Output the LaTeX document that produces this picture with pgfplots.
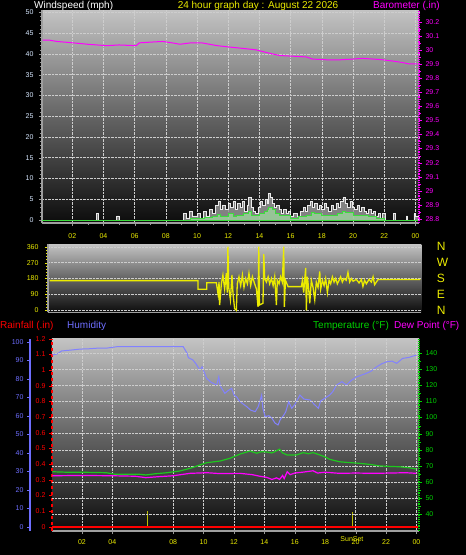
\documentclass[border=0pt]{standalone}
\usepackage{pgfplots}
\pgfplotsset{compat=1.18}
\usepackage{fontspec}
\setmainfont{Liberation Sans}
\definecolor{ylw}{RGB}{235,235,0}
\definecolor{mag}{RGB}{255,0,255}
\definecolor{hum}{RGB}{110,110,255}
\definecolor{humline}{RGB}{130,130,255}
\definecolor{grn}{RGB}{0,210,0}
\definecolor{tline}{RGB}{30,200,30}
\definecolor{windlbl}{RGB}{215,232,255}
\definecolor{bgtop}{RGB}{195,195,195}
\definecolor{bgmid}{RGB}{100,100,100}
\definecolor{bgbot}{RGB}{12,12,12}
\definecolor{gridc}{RGB}{205,205,205}
\definecolor{sunc}{RGB}{190,190,0}
\definecolor{gustfill}{RGB}{150,150,150}
\definecolor{avgline}{RGB}{60,220,60}
\definecolor{avgfill}{RGB}{160,225,160}

\pgfplotsset{
  base/.style={scale only axis, anchor=south west,
    /pgf/number format/assume math mode=true,
    tick label style={font=\fontsize{7}{8}\selectfont},
    axis background/.style={top color=bgtop, bottom color=bgbot, middle color=bgmid},
    grid style={gridc, densely dotted, line width=0.4pt},
    tick align=outside,
    major tick length=3pt, minor tick length=2pt,
  },
  over/.style={base, axis background/.style={}},
}
\begin{document}
\begin{tikzpicture}
\fill[black] (0pt,0pt) rectangle (466pt,-555pt);
\useasboundingbox (0pt,0pt) rectangle (466pt,-555pt);

% ---------------- top panel: wind speed ----------------
\begin{axis}[base, at={(42pt,-223pt)}, width=377pt, height=213pt,
  xmin=0.06, xmax=24.23, ymin=-0.72, ymax=50.55,
  xtick={2,4,6,8,10,12,14,16,18,20,22,24},
  xticklabels={02,04,06,08,10,12,14,16,18,20,22,00},
  ytick={0,5,10,15,20,25,30,35,40,45,50},
  minor x tick num=1, minor y tick num=4,
  xmajorgrids, ymajorgrids,
  axis x line*=bottom, axis y line*=left,
  axis line style={draw=gray!75, line width=1.2pt},
  x tick style={gray!80}, y tick style={gray!80},
  xticklabel style={ylw, yshift=-4pt},
  yticklabel style={windlbl, xshift=-2pt},
]
\addplot[const plot, draw=white!85!gray, line width=0.7pt, fill=gustfill, fill opacity=0.85] coordinates {
(0.06,0)(3.5,0)(3.55,1.5)(3.7,0)(4.85,1)(5.0,0)(9.0,0)(9.1,1.5)(9.3,0.5)(9.5,2)(9.7,1)(10.0,1.5)(10.2,0.5)(10.4,2)(10.6,1)(10.8,2.5)(11.0,1.5)(11.2,3.5)(11.35,4.5)(11.5,2.5)(11.6,3.5)(11.8,2.5)(12.0,4)(12.15,3)(12.3,4.5)(12.45,2.5)(12.6,4)(12.75,3)(12.9,4.5)(13.05,2)(13.2,3.5)(13.3,5.5)(13.45,3)(13.6,2)(13.75,1.5)(13.9,3)(14.05,4.5)(14.2,3.5)(14.35,5)(14.5,4)(14.6,6.5)(14.7,5.5)(14.8,4)(14.95,3)(15.1,3.5)(15.25,2.5)(15.4,1.5)(15.55,2.5)(15.7,1.5)(15.85,2)(16.0,1)(16.2,1.5)(16.4,1)(16.6,2)(16.8,3)(16.95,2)(17.1,3.5)(17.25,4.5)(17.4,3)(17.55,4)(17.7,2.5)(17.85,3.5)(18.0,2.5)(18.15,4)(18.3,3)(18.45,2)(18.6,3.5)(18.75,2.5)(18.9,4)(19.05,3)(19.2,4.5)(19.35,5.5)(19.5,4)(19.65,3)(19.8,4.5)(19.95,3)(20.1,2.5)(20.25,3.5)(20.4,2)(20.55,3)(20.7,2)(20.85,1.5)(21.0,2.5)(21.15,1.5)(21.3,2)(21.45,1)(21.6,1.5)(21.75,0.5)(21.9,1.5)(22.05,0)(22.6,1.5)(22.7,0)(23.4,1)(23.5,0)(23.9,1.5)(24.0,1)(24.2,0)
} \closedcycle;
\addplot[const plot, draw=avgline, line width=0.8pt, fill=avgfill, fill opacity=0.7] coordinates {
(0.06,0)(9.5,0)(9.6,0.5)(10,0.3)(10.5,0.6)(11,0.8)(11.3,1.4)(11.5,0.9)(12,1.5)(12.3,0.8)(12.5,1.2)(13,1.5)(13.3,2)(13.5,1)(14,1.5)(14.3,2)(14.5,2.6)(14.6,3)(14.8,2.5)(15,1.5)(15.3,1.1)(15.5,1)(16,0.5)(16.5,0.8)(17,1)(17.3,1.8)(17.5,1.5)(18,1.2)(18.5,1)(19,1.5)(19.3,2)(19.5,1.8)(20,1.2)(20.5,1)(21,0.8)(21.5,0.5)(22,0)(24.2,0)
} \closedcycle;
\end{axis}

% barometer overlay
\begin{axis}[over, at={(42pt,-223pt)}, width=377pt, height=213pt,
  xmin=0.06, xmax=24.23, ymin=28.772, ymax=30.283,
  axis x line=none, axis y line*=right,
  ytick={28.8,28.9,29.0,29.1,29.2,29.3,29.4,29.5,29.6,29.7,29.8,29.9,30.0,30.1,30.2},
  minor y tick num=1,
  y axis line style={mag, densely dotted, line width=1.2pt},
  y tick style={mag},
  yticklabel style={mag, /pgf/number format/fixed, /pgf/number format/precision=1},
]
\addplot[mag, line width=1pt] coordinates {
(0.1,30.07)(0.5,30.07)(1,30.06)(2.05,30.05)(3,30.04)(4.2,30.03)(5,30.035)(6.1,30.03)(6.3,30.05)(7,30.055)(7.8,30.06)(8.4,30.05)(8.9,30.04)(9.6,30.05)(10.3,30.05)(10.8,30.04)(11.3,30.03)(12.1,30.02)(13,30.01)(13.8,30.0)(14.5,29.98)(15.3,29.96)(16.2,29.955)(17,29.95)(17.4,29.935)(18.3,29.93)(19.2,29.93)(20,29.935)(20.6,29.94)(21.3,29.935)(21.9,29.93)(22.6,29.92)(23.2,29.91)(23.6,29.9)(24.1,29.9)
};
\end{axis}

% ---------------- middle panel: wind direction ----------------
\begin{axis}[base, at={(48pt,-312.3pt)}, width=373.4pt, height=68pt,
  xmin=0.48, xmax=24.43, ymin=-11.3, ymax=373.6,
  xtick=\empty, ytick={0,90,180,270,360}, minor y tick num=4,
  ymajorgrids,
  axis x line*=bottom, axis y line*=left,
  axis line style={draw=gray!75, line width=1.2pt},
  y tick style={ylw},
  yticklabel style={ylw, xshift=-3pt},
]
\addplot[ylw, line width=1.3pt] coordinates {
(0.58,168)(10.1,168)(10.1,119)(10.66,119)(10.66,156)(11.28,156)(11.39,90)(11.45,160)(11.49,30)(11.6,150)(11.7,200)(11.81,120)(11.92,210)(11.98,100)(12.02,360)(12.07,130)(12.18,60)(12.28,200)(12.35,90)(12.45,10)(12.56,0)(12.62,150)(12.73,190)(12.84,140)(12.95,200)(13.05,130)(13.16,180)(13.27,150)(13.37,210)(13.48,140)(13.59,190)(13.7,160)(13.85,120)(13.95,20)(14.0,360)(14.04,30)(14.27,40)(14.32,318)(14.38,180)(14.49,160)(14.6,190)(14.7,150)(14.81,180)(14.92,140)(15.02,190)(15.13,30)(15.19,170)(15.3,150)(15.4,190)(15.51,160)(15.6,360)(15.64,20)(15.71,170)(15.88,134)(16.73,134)(16.8,170)(16.88,100)(16.95,180)(17.01,240)(17.05,0)(17.12,190)(17.2,120)(17.27,40)(17.37,170)(17.48,130)(17.59,60)(17.69,160)(17.8,130)(17.91,220)(17.97,120)(18.08,170)(18.19,140)(18.29,180)(18.4,100)(18.51,170)(18.61,150)(18.72,190)(18.83,160)(18.93,180)(19.04,150)(19.15,170)(19.25,190)(19.36,160)(19.47,180)(19.61,170)(19.72,215)(19.83,160)(19.94,180)(20.05,165)(20.26,175)(20.43,155)(20.58,175)(20.68,135)(20.79,170)(20.9,150)(21.07,175)(21.22,160)(21.33,190)(21.43,145)(21.54,160)(21.65,174)(24.36,174)
};
\end{axis}
\begin{axis}[over, at={(48pt,-312.3pt)}, width=373.4pt, height=68pt,
  xmin=0.48, xmax=24.43, ymin=-11.3, ymax=373.6,
  axis x line=none, axis y line*=right,
  y axis line style={draw=none},
  ytick={0,90,180,270,360}, yticklabels={N,E,S,W,N},
  major tick length=0pt,
  yticklabel style={ylw, font=\fontsize{12}{12}\selectfont, xshift=12pt},
]
\addplot[draw=none] coordinates {(1,0)};
\end{axis}

% ---------------- bottom panel ----------------
\begin{axis}[base, at={(52pt,-531pt)}, width=367pt, height=192.4pt,
  xmin=0.03, xmax=24.17, ymin=-0.0274, ymax=1.2,
  xtick={2,4,8,10,12,14,16,18,20,22,24},
  xticklabels={02,04,08,10,12,14,16,18,20,22,00},
  extra x ticks={19.76}, extra x tick labels={SunSet},
  extra x tick style={xmajorgrids=false, major tick length=0pt},
  ytick={0,0.1,0.2,0.3,0.4,0.5,0.6,0.7,0.8,0.9,1.0,1.1,1.2},
  minor x tick num=1,
  xmajorgrids,
  axis x line*=bottom, axis y line*=left,
  x axis line style={draw=gray!75, line width=1.5pt},
  y axis line style={red, dashed, line width=1.2pt},
  x tick style={gray!80}, y tick style={red},
  xticklabel style={ylw, yshift=-2pt},
  yticklabel style={red, /pgf/number format/fixed, /pgf/number format/precision=1},
]
\addplot[sunc, line width=0.8pt] coordinates {(6.3,0)(6.3,0.1)};
\addplot[sunc, line width=0.8pt] coordinates {(19.76,0)(19.76,0.095)};
\addplot[red, line width=2pt] coordinates {(0.03,0)(24.1,0)};
\end{axis}

% humidity
\begin{axis}[over, at={(52pt,-531pt)}, width=367pt, height=192.4pt,
  xmin=0.03, xmax=24.17, ymin=-2.32, ymax=101.68,
  axis x line=none, axis y line*=left,
  axis y line shift=22pt,
  ytick={0,10,20,30,40,50,60,70,80,90,100},
  y axis line style={hum, line width=1.5pt},
  y tick style={hum}, yticklabel style={hum},
]
\addplot[humline, line width=1pt] coordinates {
(0.05,92.8)(0.4,93.5)(0.66,95)(1.3,95.5)(1.87,96)(2.5,96.2)(3.0,96.5)(3.6,96.5)(4.3,97.3)(5.5,97.3)(6.5,97.3)(7.5,97.3)(8.66,97.3)(8.9,94)(9.0,91.4)(9.3,90.1)(9.5,88)(9.76,84.7)(9.9,86.5)(10.2,80.2)(10.5,78)(10.86,76.6)(11.0,81)(11.1,76)(11.4,72.1)(11.6,73.5)(11.85,74.8)(12.0,71.2)(12.2,70)(12.3,68.5)(12.5,67)(12.84,64.9)(13.1,63)(13.4,62.2)(13.6,65)(13.82,71.2)(13.9,64)(14.05,59.5)(14.3,60)(14.5,58.6)(14.7,56)(14.9,55)(15.05,58)(15.25,60)(15.4,62)(15.6,67.6)(15.8,64)(16.0,66)(16.34,71.2)(16.6,69)(17.0,68.5)(17.3,66)(17.55,64)(17.7,68)(17.9,69)(18.3,71.2)(18.5,73)(18.75,76.6)(19.1,78.4)(19.4,76.6)(19.7,79)(20.07,81)(20.4,82)(20.7,82.9)(21.0,84)(21.4,86.5)(21.7,88)(22.05,89.2)(22.4,89.5)(22.7,88.3)(23.1,91)(23.5,91.5)(24.0,92.8)
};
\end{axis}

% temperature and dew point
\begin{axis}[over, at={(52pt,-531pt)}, width=367pt, height=192.4pt,
  xmin=0.03, xmax=24.17, ymin=29.42, ymax=149.15,
  axis x line=none, axis y line*=right,
  ytick={40,50,60,70,80,90,100,110,120,130,140},
  minor y tick num=1,
  ymajorgrids,
  y axis line style={grn, densely dotted, line width=1.2pt},
  y tick style={grn}, yticklabel style={grn},
]
\addplot[tline, line width=1.2pt] coordinates {
(0.05,66.3)(1.0,66)(2.0,66)(3.6,65.7)(4.2,64.7)(5.8,64.7)(6.2,64.3)(6.8,65)(7.6,65.7)(8.45,66.8)(9.1,68.4)(9.6,70)(10.2,71.9)(11.1,73)(11.74,74.7)(12.4,77.3)(13.05,79.2)(13.5,77.8)(13.8,78.8)(14.15,78.6)(14.5,78)(15.0,80.3)(15.2,78)(15.5,76.7)(16.1,76.7)(16.55,78.2)(16.9,77.5)(17.2,78.2)(17.67,76.7)(18.0,75.5)(18.3,74)(18.95,72.5)(19.6,72)(20.3,71.5)(21.0,70.8)(21.6,69.9)(22.3,69.6)(22.9,69.4)(23.5,68.8)(24.0,68)
};
\addplot[mag, line width=1.2pt] coordinates {
(0.05,63.8)(2,64)(4,63.8)(5.5,63.5)(6.2,62.6)(7,63.2)(8,63.8)(9.1,65.3)(10.2,65.7)(11,65.2)(12.4,65.3)(13.2,64.5)(13.7,63.5)(14.15,62.8)(14.5,61.5)(14.8,62.5)(15.0,61.5)(15.2,64)(15.3,62)(15.5,66.3)(15.7,64.5)(16.0,65.5)(16.5,66)(17.2,66.9)(17.5,65.5)(18,66)(18.95,65.3)(20,65.5)(21.2,65.3)(22.3,65.5)(23.3,65.7)(24,65.3)
};
\end{axis}

% titles
\begin{scope}[every node/.style={font=\fontsize{10}{12}\selectfont, inner sep=0pt}]
\node[anchor=west, white] at (34pt,-6pt) {Windspeed (mph)};
\node[ylw] at (258pt,-6pt) {24 hour graph day : August 22 2026};
\node[anchor=east, mag] at (440pt,-6pt) {Barometer (.in)};
\node[anchor=west, red] at (0pt,-326pt) {Rainfall (.in)};
\node[anchor=west, hum] at (67pt,-326pt) {Humidity};
\node[anchor=west, grn] at (313pt,-326pt) {Temperature (°F)};
\node[anchor=west, mag] at (394pt,-326pt) {Dew Point (°F)};
\end{scope}
\end{tikzpicture}
\end{document}
